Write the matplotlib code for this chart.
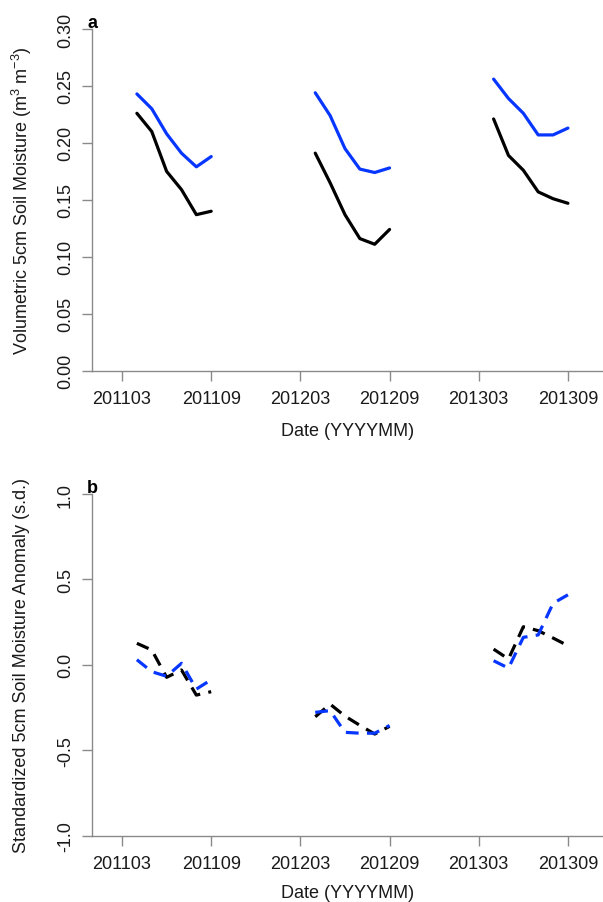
import matplotlib
matplotlib.use('Agg')
import matplotlib.pyplot as plt

plt.rcParams['font.family'] = ['Liberation Sans', 'DejaVu Sans']
plt.rcParams['mathtext.fontset'] = 'custom'
plt.rcParams['mathtext.rm'] = 'Liberation Sans'
plt.rcParams['mathtext.it'] = 'Liberation Sans:italic'

# growing season Apr..Sep for each year
years = [2011, 2012, 2013]
months = [4, 5, 6, 7, 8, 9]

# (a) volumetric soil moisture, m3 m-3
vwc_black = [
    [0.226, 0.210, 0.175, 0.159, 0.137, 0.140],
    [0.191, 0.165, 0.137, 0.116, 0.111, 0.124],
    [0.221, 0.189, 0.176, 0.157, 0.151, 0.147],
]
vwc_blue = [
    [0.243, 0.230, 0.208, 0.191, 0.179, 0.188],
    [0.244, 0.224, 0.195, 0.177, 0.174, 0.178],
    [0.256, 0.239, 0.226, 0.207, 0.207, 0.213],
]

# (b) standardized anomaly, s.d.
anom_black = [
    [0.126, 0.087, -0.073, -0.030, -0.177, -0.157],
    [-0.304, -0.230, -0.300, -0.354, -0.405, -0.360],
    [0.092, 0.034, 0.223, 0.200, 0.157, 0.112],
]
anom_blue = [
    [0.030, -0.040, -0.067, 0.009, -0.142, -0.087],
    [-0.278, -0.268, -0.395, -0.400, -0.400, -0.355],
    [0.024, -0.019, 0.161, 0.175, 0.360, 0.410],
]

tick_months = [2, 8, 14, 20, 26, 32]
tick_labels = ['201103', '201109', '201203', '201209', '201303', '201309']

a_ticks = [0.00, 0.05, 0.10, 0.15, 0.20, 0.25, 0.30]
a_labels = ['0.00', '0.05', '0.10', '0.15', '0.20', '0.25', '0.30']
b_ticks = [-1.0, -0.5, 0.0, 0.5, 1.0]
b_labels = ['-1.0', '-0.5', '0.0', '0.5', '1.0']

BLUE = '#0636ff'
AXC = '#8a8a8a'
W, H = 603, 903
LW = 2.3


def month_index(year, month):
    # months since Jan 2011
    return (year - 2011) * 12 + (month - 1)


def setup(ax, yticks, ylabels, ylim):
    ax.set_xlim(0, 34.36)
    ax.set_ylim(*ylim)
    for s in ['top', 'right']:
        ax.spines[s].set_visible(False)
    for s in ['left', 'bottom']:
        ax.spines[s].set_color(AXC)
        ax.spines[s].set_linewidth(1.0)
    ax.spines['left'].set_bounds(ylim[0], ylim[1])
    ax.set_xticks(tick_months)
    ax.set_xticklabels(tick_labels)
    ax.set_yticks(yticks)
    ax.set_yticklabels(ylabels, rotation=90, va='center')
    ax.tick_params(length=7.2, width=1.0, color=AXC, labelsize=13,
                   labelcolor='#1a1a1a')
    ax.tick_params(axis='x', pad=6.5)
    ax.tick_params(axis='y', pad=6)
    ax.patch.set_alpha(0)


fig = plt.figure(figsize=(W / 100, H / 100), dpi=100)

left = 92.3 / W
width = 1.0 - left
ax_a = fig.add_axes([left, 1 - 371.7 / H, width, 341.7 / H])
ax_b = fig.add_axes([left, 1 - 836.7 / H, width, 341.7 / H])

dash = (0, (4.0, 2.6))
for i, yr in enumerate(years):
    x = [month_index(yr, m) for m in months]
    ax_a.plot(x, vwc_black[i], color='black', lw=LW,
              solid_capstyle='round', solid_joinstyle='round', clip_on=False)
    ax_a.plot(x, vwc_blue[i], color=BLUE, lw=LW,
              solid_capstyle='round', solid_joinstyle='round', clip_on=False)
    ax_b.plot(x, anom_black[i], color='black', lw=LW,
              linestyle=dash, clip_on=False)
    ax_b.plot(x, anom_blue[i], color=BLUE, lw=LW,
              linestyle=dash, clip_on=False)

setup(ax_a, a_ticks, a_labels, (0.0, 0.30))
setup(ax_b, b_ticks, b_labels, (-1.0, 1.0))

# panel letters
fig.text(87 / W, 1 - 28 / H, 'a', fontsize=13, fontweight='bold',
         ha='left', va='baseline')
fig.text(87 / W, 1 - 493 / H, 'b', fontsize=13, fontweight='bold',
         ha='left', va='baseline')

# axis titles
fig.text(22 / W, 1 - 201 / H, r'Volumetric 5cm Soil Moisture (m$^3$ m$^{-3}$)',
         rotation=90, ha='center', va='center', fontsize=13, color='#1a1a1a')
fig.text(22 / W, 1 - 666 / H, 'Standardized 5cm Soil Moisture Anomaly (s.d.)',
         rotation=90, ha='center', va='center', fontsize=13, color='#1a1a1a')
fig.text(348 / W, 1 - 431 / H, 'Date (YYYYMM)', ha='center', va='center',
         fontsize=13, color='#1a1a1a')
fig.text(348 / W, 1 - 894 / H, 'Date (YYYYMM)', ha='center', va='center',
         fontsize=13, color='#1a1a1a')

fig.savefig('out.png', dpi=100, facecolor='white')
